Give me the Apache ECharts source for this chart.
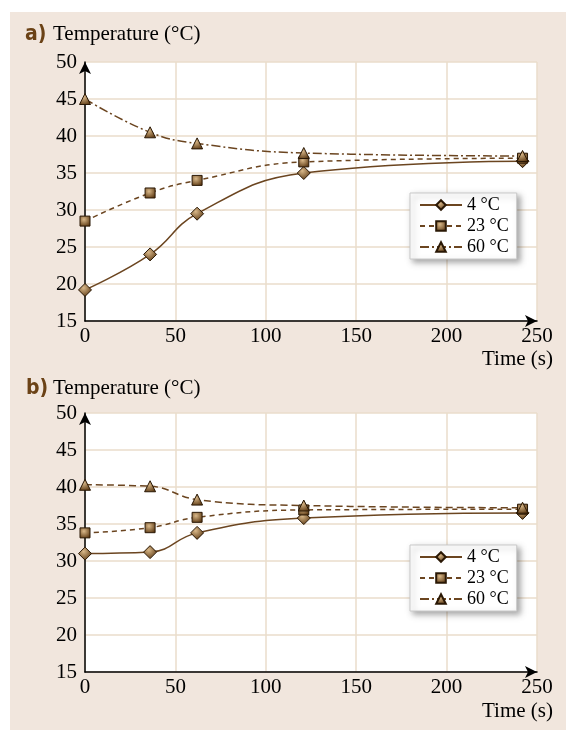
<!DOCTYPE html>
<html lang="en">
<head>
    <meta charset="UTF-8">
    <title>Temperature vs time</title>
    <script src="https://cdn.jsdelivr.net/npm/echarts@6/dist/echarts.min.js"></script>
    <style>
        html, body { margin: 0; padding: 0; background: #fff; }
        #main { width: 566px; height: 730px; }
    </style>
</head>
<body>
<div id="main"></div>
<script type="text/javascript">
    // sampling times (s), same for both panels
    var times = [0, 36, 62, 121, 242];
    var xTicks = [0, 50, 100, 150, 200, 250];
    var yTicks = [15, 20, 25, 30, 35, 40, 45, 50];
    var seriesNames = ['4 °C', '23 °C', '60 °C'];

    // panel a)
    var a4 = [19.2, 24.0, 29.5, 35.0, 36.6];
    var a23 = [28.5, 32.3, 34.0, 36.5, 37.0];
    var a60 = [45.0, 40.5, 39.0, 37.7, 37.3];

    // panel b)
    var b4 = [31.0, 31.2, 33.8, 35.8, 36.5];
    var b23 = [33.8, 34.5, 35.9, 36.9, 37.0];
    var b60 = [40.3, 40.1, 38.3, 37.5, 37.2];

    var brown = '#6b4520';
    var gridColor = '#eadccb';
    var serif = '"Liberation Serif", "DejaVu Serif", serif';
    var labelFont = 'bold 21px "Liberation Sans Narrow", "DejaVu Sans Condensed", sans-serif';

    function pairs(vals) {
        var out = [];
        for (var i = 0; i < times.length; i++) {
            out.push([times[i], vals[i]]);
        }
        return out;
    }

    var markerFill = {
        type: 'radial', x: 0.4, y: 0.35, r: 0.7,
        colorStops: [
            {offset: 0, color: '#d9b889'},
            {offset: 1, color: '#5a3711'}
        ]
    };

    function makeSeries(name, vals, idx, symbol, size, dash) {
        return {
            name: name,
            type: 'line',
            xAxisIndex: idx,
            yAxisIndex: idx,
            data: pairs(vals),
            smooth: 0.45,
            symbol: symbol,
            symbolSize: size,
            showAllSymbol: true,
            lineStyle: {color: brown, width: 1.5, type: dash},
            itemStyle: {color: markerFill, borderColor: '#2a1805', borderWidth: 1},
            emphasis: {disabled: true}
        };
    }

    function xAxis(idx) {
        return {
            type: 'value', gridIndex: idx, min: 0, max: 250, interval: 50,
            axisLine: {show: true, lineStyle: {color: '#000', width: 1.5},
                symbol: ['none', 'arrow'], symbolSize: [9, 12], symbolOffset: [0, 0]},
            axisTick: {show: false},
            axisLabel: {color: '#000', fontFamily: serif, fontSize: 21, margin: 5,
                formatter: function (v) { return xTicks.indexOf(v) >= 0 ? String(v) : ''; }},
            splitLine: {show: true, lineStyle: {color: gridColor, width: 1.5}}
        };
    }

    function yAxis(idx) {
        return {
            type: 'value', gridIndex: idx, min: 15, max: 50, interval: 5,
            axisLine: {show: true, lineStyle: {color: '#000', width: 1.5},
                symbol: ['none', 'arrow'], symbolSize: [9, 12], symbolOffset: [0, 0]},
            axisTick: {show: false},
            axisLabel: {color: '#000', fontFamily: serif, fontSize: 21, margin: 8,
                formatter: function (v) { return yTicks.indexOf(v) >= 0 ? String(v) : ''; }},
            splitLine: {show: true, lineStyle: {color: gridColor, width: 1.5}}
        };
    }

    function legend(top) {
        return {
            data: seriesNames,
            orient: 'vertical',
            left: 410,
            top: top,
            width: 108,
            backgroundColor: '#fff',
            borderColor: '#c9c9c9',
            borderWidth: 1,
            shadowColor: 'rgba(0,0,0,0.35)',
            shadowBlur: 6,
            shadowOffsetX: 3,
            shadowOffsetY: 3,
            padding: [3, 8, 3, 9],
            itemWidth: 42,
            itemHeight: 12,
            itemGap: 3,
            selectedMode: false,
            textStyle: {color: '#000', fontFamily: serif, fontSize: 18, lineHeight: 18}
        };
    }

    var myChart = echarts.init(document.getElementById('main'));

    var option = {
        backgroundColor: '#fff',
        animation: false,
        graphic: [
            {type: 'rect', z: -10, shape: {x: 10, y: 12, width: 556, height: 718}, style: {fill: '#f1e6dd'}},
            {type: 'text', left: 25, top: 24, style: {text: 'a)', fill: '#6b4216', font: labelFont}},
            {type: 'text', left: 53, top: 24, style: {text: 'Temperature (°C)', fill: '#000', font: '21px ' + serif}},
            {type: 'text', right: 13, top: 349, style: {text: 'Time (s)', fill: '#000', font: '21px ' + serif}},
            {type: 'text', left: 26, top: 378, style: {text: 'b)', fill: '#6b4216', font: labelFont}},
            {type: 'text', left: 53, top: 378, style: {text: 'Temperature (°C)', fill: '#000', font: '21px ' + serif}},
            {type: 'text', right: 13, top: 701, style: {text: 'Time (s)', fill: '#000', font: '21px ' + serif}}
        ],
        grid: [
            {left: 85, top: 62, width: 452, height: 259, show: true, backgroundColor: '#fff', borderWidth: 0},
            {left: 85, top: 413, width: 452, height: 259, show: true, backgroundColor: '#fff', borderWidth: 0}
        ],
        xAxis: [xAxis(0), xAxis(1)],
        yAxis: [yAxis(0), yAxis(1)],
        legend: [legend(193), legend(545)],
        series: [
            makeSeries(seriesNames[0], a4, 0, 'diamond', 13, 'solid'),
            makeSeries(seriesNames[1], a23, 0, 'rect', 10, [5, 4]),
            makeSeries(seriesNames[2], a60, 0, 'triangle', 11, [9, 3, 2, 3]),
            makeSeries(seriesNames[0], b4, 1, 'diamond', 13, 'solid'),
            makeSeries(seriesNames[1], b23, 1, 'rect', 10, [5, 4]),
            makeSeries(seriesNames[2], b60, 1, 'triangle', 11, [7, 4])
        ]
    };

    myChart.setOption(option);
</script>
</body>
</html>
